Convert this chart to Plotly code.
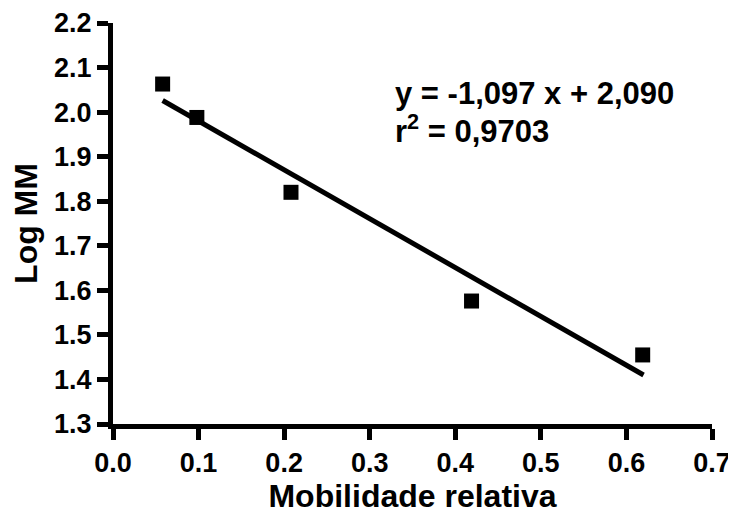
import plotly.graph_objects as go

# Data
mobilidade = [0.058, 0.098, 0.208, 0.419, 0.619]
log_mm = [2.063, 1.988, 1.820, 1.576, 1.455]

# Linear fit endpoints (y = -1.097 x + 2.090)
fit_x = [0.058, 0.620]
fit_y = [2.026, 1.410]

x_ticks = [0.0, 0.1, 0.2, 0.3, 0.4, 0.5, 0.6, 0.7]
y_ticks = [1.3, 1.4, 1.5, 1.6, 1.7, 1.8, 1.9, 2.0, 2.1, 2.2]

eq_lines = ["y = -1,097 x + 2,090", "r<sup>2</sup> = 0,9703"]

FONT = "Liberation Sans, Arial, sans-serif"

fig = go.Figure()
fig.add_trace(go.Scatter(x=fit_x, y=fit_y, mode="lines",
                         line=dict(color="black", width=5), showlegend=False))
fig.add_trace(go.Scatter(x=mobilidade, y=log_mm, mode="markers",
                         marker=dict(symbol="square", size=15, color="black"),
                         showlegend=False, cliponaxis=False))

for i, line in enumerate(eq_lines):
    fig.add_annotation(
        x=0.327, y=2.042 - i * 0.080, xref="x", yref="y",
        xanchor="left", yanchor="middle",
        align="left", showarrow=False,
        text=f"<b>{line}</b>",
        font=dict(family=FONT, size=31, color="black"),
    )

axis_common = dict(
    showline=True, linecolor="black", linewidth=5,
    ticks="outside", ticklen=11, tickwidth=5, tickcolor="black",
    showgrid=False, zeroline=False,
    tickfont=dict(family=FONT, size=27, color="black"),
)

fig.update_xaxes(
    range=[0, 0.7], tickvals=x_ticks, ticktext=[f"<b>{v:.1f}</b>" for v in x_ticks],
    title=dict(text="<b>Mobilidade relativa</b>", font=dict(family=FONT, size=32, color="black"), standoff=8),
    **axis_common,
)
fig.update_yaxes(
    range=[1.3, 2.2], tickvals=y_ticks, ticktext=[f"<b>{v:.1f}</b>" for v in y_ticks],
    title=dict(text="<b>Log MM</b>", font=dict(family=FONT, size=32, color="black"), standoff=12),
    **axis_common,
)

# page body adds an 8px offset, so the figure is sized and placed to compensate
fig.update_layout(
    width=728, height=507,
    margin=dict(l=105, r=24, t=15, b=91, autoexpand=False),
    plot_bgcolor="white", paper_bgcolor="white",
)

fig.write_html("out.html")
